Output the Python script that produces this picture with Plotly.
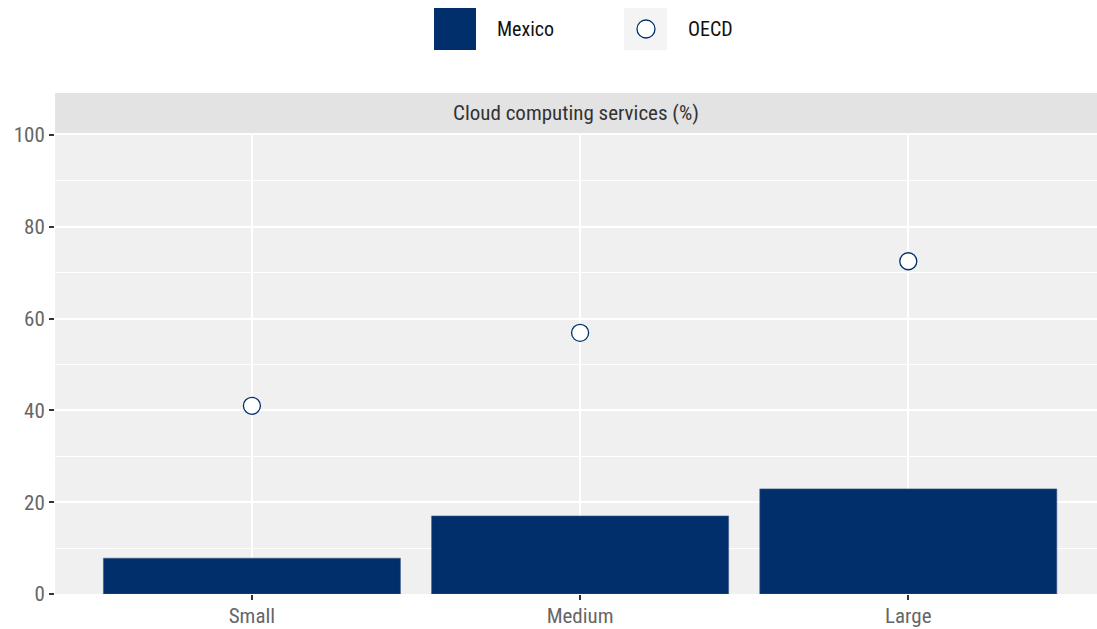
import plotly.graph_objects as go

# data
sizes = ["Small", "Medium", "Large"]
mexico = [7.8, 17.0, 22.9]
oecd = [41.0, 56.9, 72.5]
panel_title = "Cloud computing services (%)"

navy = "#002F6C"
font_family = "Roboto Condensed, Liberation Sans Narrow, Arial Narrow, sans-serif"

W, H = 1097, 629
L, R, T, B = 55, 0, 135, 35
pw, ph = W - L - R, H - T - B


def px(x):
    return (x - L) / pw


def py(y):
    return (H - B - y) / ph


fig = go.Figure()
fig.add_trace(go.Bar(x=sizes, y=mexico, name="Mexico", width=0.905,
                     marker=dict(color=navy, line=dict(color="#3d5d8c", width=0.6)),
                     showlegend=False))
fig.add_trace(go.Scatter(x=sizes, y=oecd, name="OECD", mode="markers",
                         marker=dict(symbol="circle", size=17, color="white",
                                     line=dict(color=navy, width=1.3)),
                         showlegend=False))

shapes = [
    # facet strip
    dict(type="rect", xref="paper", yref="paper", x0=0, x1=1, y0=py(133), y1=py(93),
         fillcolor="#e3e3e3", line=dict(width=0), layer="below"),
    # legend keys
    dict(type="rect", xref="paper", yref="paper", x0=px(434), x1=px(476), y0=py(50), y1=py(8),
         fillcolor=navy, line=dict(width=0)),
    dict(type="rect", xref="paper", yref="paper", x0=px(624), x1=px(667), y0=py(50), y1=py(8),
         fillcolor="#f4f4f4", line=dict(width=0)),
    dict(type="circle", xref="paper", yref="paper", x0=px(637), x1=px(655), y0=py(38), y1=py(20),
         fillcolor="white", line=dict(color=navy, width=1.3)),
]

annotations = [
    dict(text=panel_title, xref="paper", yref="paper", x=0.5, y=py(113), showarrow=False,
         font=dict(size=21, color="#333333", family=font_family), xanchor="center", yanchor="middle"),
    dict(text="Mexico", xref="paper", yref="paper", x=px(495), y=py(29), showarrow=False,
         font=dict(size=20, color="#111111", family=font_family), xanchor="left", yanchor="middle"),
    dict(text="OECD", xref="paper", yref="paper", x=px(686), y=py(29), showarrow=False,
         font=dict(size=20, color="#111111", family=font_family), xanchor="left", yanchor="middle"),
]

fig.update_layout(
    width=W, height=H,
    margin=dict(l=L, r=R, t=T, b=B, pad=0),
    paper_bgcolor="white",
    plot_bgcolor="#f0f0f0",
    font=dict(family=font_family, size=21, color="#666666"),
    shapes=shapes,
    annotations=annotations,
    bargap=0.1,
)
fig.update_xaxes(
    range=[-0.6, 2.575], showgrid=True, gridcolor="white", gridwidth=2,
    ticks="outside", ticklen=5, tickcolor="#333333", tickwidth=1.5,
    tickfont=dict(size=21, color="#666666"), showline=False, zeroline=False,
    ticklabelstandoff=-2,
)
fig.update_yaxes(
    range=[0, 100], dtick=20, showgrid=True, gridcolor="white", gridwidth=2,
    minor=dict(dtick=10, showgrid=True, gridcolor="white", gridwidth=1),
    ticks="outside", ticklen=5, tickcolor="#333333", tickwidth=1.5,
    tickfont=dict(size=21, color="#666666"), showline=False, zeroline=False,
)

fig.write_html("out.html", config={"displayModeBar": False},
               post_script="document.body.style.margin='0';")
